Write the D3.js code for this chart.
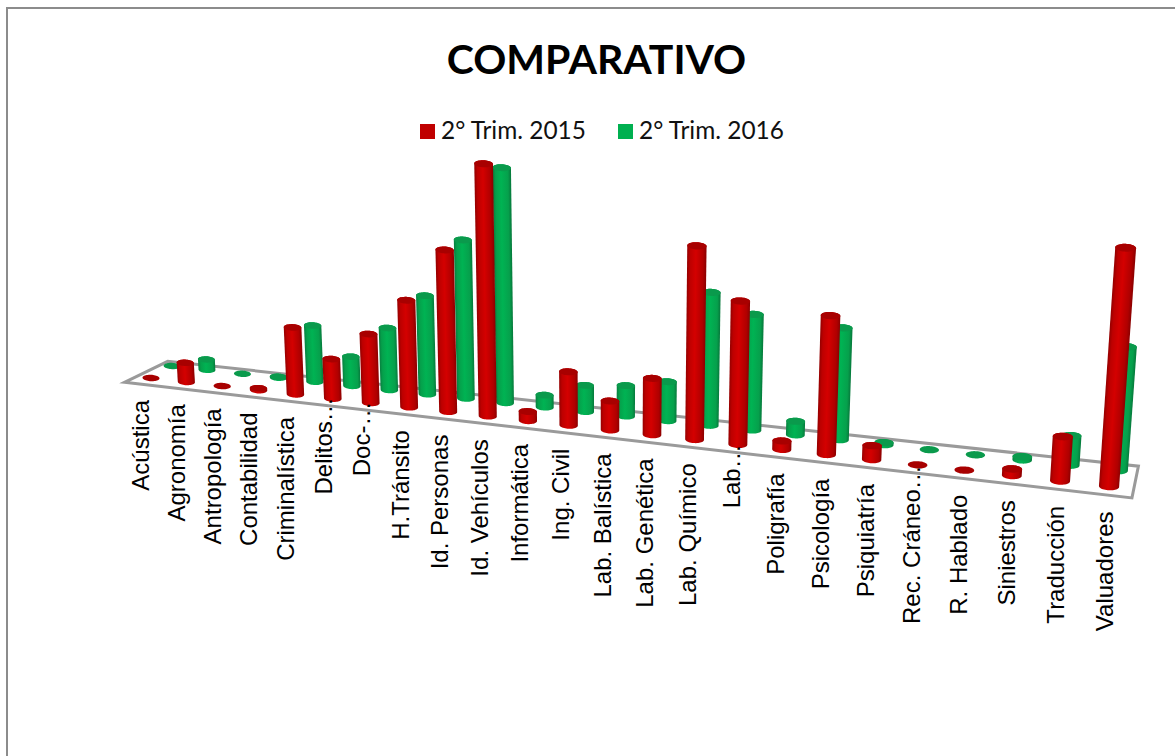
<!DOCTYPE html>
<html><head><meta charset="utf-8">
<script src="https://cdn.jsdelivr.net/npm/d3@7"></script>
<style>html,body{margin:0;padding:0;background:#fff}svg{display:block}</style>
</head><body><svg id="c" width="1175" height="756"></svg>
<script>
const categories = ["Acústica","Agronomía","Antropología","Contabilidad","Criminalística","Delitos…","Doc-…","H.Tránsito","Id. Personas","Id. Vehículos","Informática","Ing. Civil","Lab. Balística","Lab. Genética","Lab. Químico","Lab…","Poligrafía","Psicología","Psiquiatría","Rec. Cráneo…","R. Hablado","Siniestros","Traducción","Valuadores"];
const trim2015 = [0,20,0,2,68,40,69,106,158,242,9,52,28,54,181,134,8,128,13,0,0,6,40,208];
const trim2016 = [0,11,0,1,58,30,63,99,157,229,12,26,30,38,127,110,13,105,2,0,0,3,27,111];
const seriesNames = ["2° Trim. 2015","2° Trim. 2016"];
const titleText = "COMPARATIVO";

const svg = d3.select("#c");
const defs = svg.append("defs");

// Camera: homogeneous projection of (category, depth, height) to the page.
const catPos = d3.scalePoint().domain(categories).range([0, categories.length - 1]);
const heightPos = d3.scaleLinear().domain([0, 250]).range([0, 250]);
const Gi = -0.00682, Gd = 0.0142, Gz = -0.00013;
function project(c, d, z) {
  const w = 1 + Gi * c + Gd * d + Gz * z;
  return {
    x: (151 + 34.09 * c + 23.4 * d + 607 * Gz * z) / w,
    y: (378 + 1.4 * c - 6.8 * d - z) / w,
    w
  };
}
const R = 8.5, RY = 3.2, TILT = 0.04;
function ring(c, d, z) {
  const p = project(c, d, z);
  return d3.range(48).map(k => {
    const t = k / 48 * 2 * Math.PI;
    const ex = R / p.w * Math.cos(t), ey = RY / p.w * Math.sin(t);
    return [p.x + ex, p.y + ey + ex * TILT];
  });
}
const closed = d3.line().curve(d3.curveLinearClosed);

// Frame
svg.append("rect").attr("x", 7).attr("y", 8).attr("width", 1200).attr("height", 800)
  .attr("fill", "#fff").attr("stroke", "#8c8c8c").attr("stroke-width", 2);

// Title
svg.append("text").attr("x", 596.5).attr("y", 74).attr("text-anchor", "middle")
  .attr("font-family", "Lato").attr("font-weight", 700).attr("font-size", 41)
  .attr("fill", "#000").text(titleText);

// Legend
const legendColors = ["#c00000", "#00b050"];
const legendX = d3.scalePoint().domain(seriesNames).range([420, 618]);
seriesNames.forEach((n, k) => {
  svg.append("rect").attr("x", legendX(n)).attr("y", 124).attr("width", 15).attr("height", 15).attr("fill", legendColors[k]);
  svg.append("text").attr("x", legendX(n) + 21).attr("y", 139)
    .attr("font-family", "Lato").attr("font-size", 24.4).attr("fill", "#111").text(n);
});

// Floor
const floorCorners = [[-0.45,-0.5],[23.55,-0.5],[23.35,1.4],[-0.3,1.3]].map(a => { const p = project(a[0], a[1], 0); return [p.x, p.y]; });
svg.append("path").attr("d", closed(floorCorners)).attr("fill", "#fff")
  .attr("stroke", "#9a9a9a").attr("stroke-width", 3).attr("stroke-linejoin", "miter");

const palettes = [
  { stops: ["#8c0000", "#b00000", "#d40000", "#bd0000", "#960000"], cap: "#a80000", depth: 0 },
  { stops: ["#067a3c", "#06a04c", "#00b353", "#05a04b", "#07803f"], cap: "#0a9a4c", depth: 1 }
];
const offsets = [0, 0.16, 0.55, 0.85, 1];

function cylinders(values, pal, tag) {
  const g = svg.append("g").attr("class", tag);
  categories.forEach((cat, idx) => {
    const c = catPos(cat), z = heightPos(values[idx]);
    const bot = ring(c, pal.depth, 0), top = ring(c, pal.depth, z);
    if (z > 0) {
      const pb = project(c, pal.depth, 0), pt = project(c, pal.depth, z);
      const ax = pt.x - pb.x, ay = pt.y - pb.y, len = Math.hypot(ax, ay);
      const nx = -ay / len, ny = ax / len;
      const hw = R / pb.w;
      const id = tag + idx;
      const lg = defs.append("linearGradient").attr("id", id).attr("gradientUnits", "userSpaceOnUse")
        .attr("x1", pb.x + nx * hw).attr("y1", pb.y + ny * hw)
        .attr("x2", pb.x - nx * hw).attr("y2", pb.y - ny * hw);
      pal.stops.forEach((s, k) => lg.append("stop").attr("offset", offsets[k]).attr("stop-color", s));
      g.append("path").attr("d", closed(d3.polygonHull(bot.concat(top)))).attr("fill", `url(#${id})`);
    }
    g.append("path").attr("d", closed(top)).attr("fill", pal.cap);
  });
}
cylinders(trim2016, palettes[1], "s2016");
cylinders(trim2015, palettes[0], "s2015");

// Category labels
const labelSize = 24;
const labelX = d3.scaleLinear().domain([151, 1109]).range([149, 1113]);
const labelY = d3.scaleLinear().domain([378, 487]).range([400, 512]);
svg.append("g").selectAll("text").data(categories).join("text")
  .attr("transform", d => {
    const p = project(catPos(d), 0, 0);
    const trunc = d.endsWith("…") ? labelSize : 0;
    return `translate(${labelX(p.x)},${labelY(p.y) - trunc}) rotate(-90)`;
  })
  .attr("text-anchor", "end")
  .attr("font-family", "Liberation Sans").attr("font-size", labelSize).attr("fill", "#000")
  .text(d => d);
</script></body></html>
